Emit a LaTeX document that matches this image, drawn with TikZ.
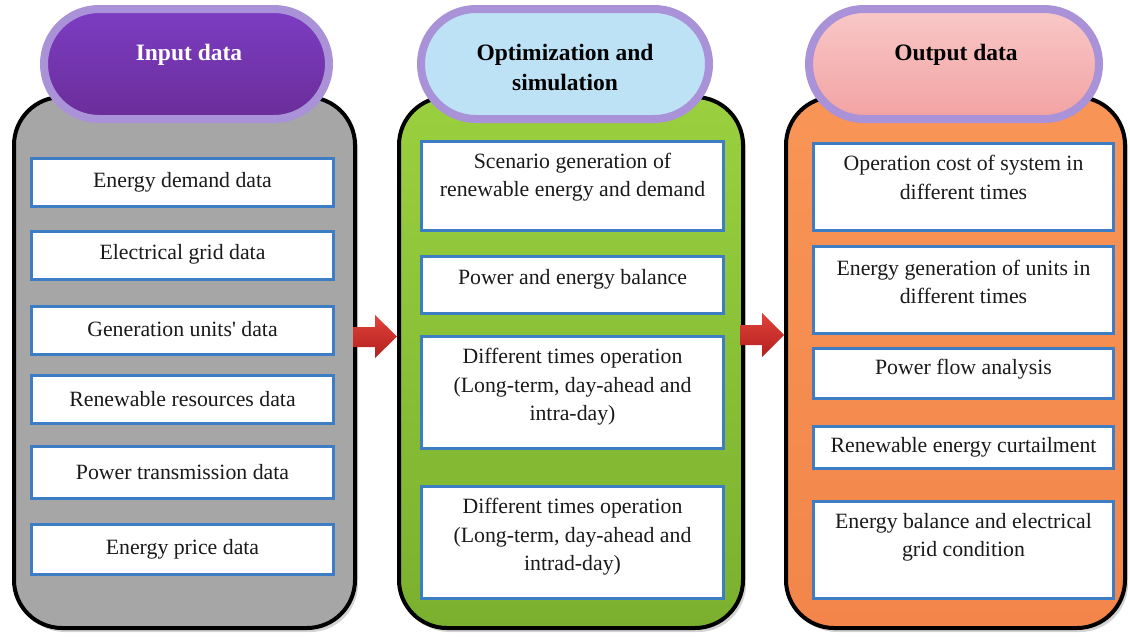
\documentclass[tikz,border=0pt]{standalone}
\usepackage{fontspec}
\setmainfont{Liberation Serif}
\usetikzlibrary{shadows}
\definecolor{panelgray}{HTML}{A6A6A6}
\definecolor{greentop}{HTML}{9AD03F}
\definecolor{greenbot}{HTML}{7AB02E}
\definecolor{orangetop}{HTML}{F89556}
\definecolor{orangebot}{HTML}{F3854A}
\definecolor{boxblue}{HTML}{3C7DC4}
\definecolor{hdrborder}{HTML}{A992D8}
\definecolor{purpletop}{HTML}{7D3DC4}
\definecolor{purplebot}{HTML}{6A2D98}
\definecolor{lightblue}{HTML}{BDE2F6}
\definecolor{pinktop}{HTML}{F9C8C8}
\definecolor{pinkbot}{HTML}{F2A2A2}
\definecolor{redtop}{HTML}{E0433A}
\definecolor{redbot}{HTML}{B21F1E}
\definecolor{txtcol}{HTML}{1A1A1A}
\begin{document}
\begin{tikzpicture}[x=1pt,y=-1pt,
  panel/.style={draw=black, line width=4pt, rounded corners=48pt, minimum width=341, minimum height=531, inner sep=0pt,
    drop shadow={opacity=0.35, shadow xshift=3pt, shadow yshift=-4pt}},
  header/.style={draw=hdrborder, line width=8pt, rounded corners=55pt, minimum width=285, minimum height=110, inner sep=0pt,
    drop shadow={opacity=0.3, shadow xshift=2pt, shadow yshift=-3pt}},
  htxt/.style={font=\bfseries\fontsize{23.5}{30}\selectfont, align=center, inner sep=0pt},
  box/.style={draw=boxblue, line width=3pt, fill=white, inner sep=0pt, minimum width=302},
  txt/.style={font=\fontsize{21.8}{28.5}\selectfont, align=center, inner sep=0pt, text=txtcol},
  redarrow/.style={top color=redtop, bottom color=redbot, draw=none}
]
\useasboundingbox (0,0) rectangle (1130,637);

% panels
\node[panel, fill=panelgray] (lp) at (184.5,362.5) {};
\node[panel, top color=greentop, bottom color=greenbot, minimum width=344] (mp) at (571,362.5) {};
\node[panel, top color=orangetop, bottom color=orangebot, minimum width=339] (rp) at (955.5,362.5) {};

% headers
\node[header, top color=purpletop, bottom color=purplebot] (lh) at (186.5,64) {};
\node[htxt, text=white] (lht) at (189,55) {Input data};
\node[header, fill=lightblue, minimum width=288] (mh) at (565,64) {};
\node[htxt, text=black] (mht) at (565,67) {Optimization and\\simulation};
\node[header, top color=pinktop, bottom color=pinkbot, minimum width=290] (rh) at (954,64) {};
\node[htxt, text=black] (rht) at (956,55) {Output data};

% left boxes
\node[box, minimum height=48] (l1) at (182.5,182.5) {};
\node[txt] (l1t) at (182.5,182) {Energy demand data};
\node[box, minimum height=48] (l2) at (182.5,255.5) {};
\node[txt] (l2t) at (182.5,254) {Electrical grid data};
\node[box, minimum height=48] (l3) at (182.5,330.5) {};
\node[txt] (l3t) at (182.5,329) {Generation units\textquotesingle\ data};
\node[box, minimum height=48] (l4) at (182.5,399.5) {};
\node[txt] (l4t) at (182.5,399) {Renewable resources data};
\node[box, minimum height=52] (l5) at (182.5,472.5) {};
\node[txt] (l5t) at (182.5,472) {Power transmission data};
\node[box, minimum height=50] (l6) at (182.5,549.5) {};
\node[txt] (l6t) at (182.5,549) {Energy price data};

% middle boxes
\node[box, minimum height=89] (m1) at (572.5,186) {};
\node[txt] (m1t) at (572.5,177) {Scenario generation of\\renewable energy and demand};
\node[box, minimum height=57] (m2) at (572.5,285) {};
\node[txt] (m2t) at (572.5,279) {Power and energy balance};
\node[box, minimum height=112] (m3) at (572.5,392.5) {};
\node[txt] (m3t) at (572.5,387) {Different times operation\\(Long-term, day-ahead and\\intra-day)};
\node[box, minimum height=112] (m4) at (572.5,542.5) {};
\node[txt] (m4t) at (572.5,537) {Different times operation\\(Long-term, day-ahead and\\intrad-day)};

% right boxes
\node[box, minimum height=87, minimum width=300] (r1) at (963.5,187) {};
\node[txt] (r1t) at (963.5,177.5) {Operation cost of system in\\different times};
\node[box, minimum height=87, minimum width=300] (r2) at (963.5,290) {};
\node[txt] (r2t) at (963.5,282) {Energy generation of units in\\different times};
\node[box, minimum height=50, minimum width=300] (r3) at (963.5,373.5) {};
\node[txt] (r3t) at (963.5,369) {Power flow analysis};
\node[box, minimum height=42, minimum width=300] (r4) at (963.5,447.5) {};
\node[txt] (r4t) at (963.5,447) {Renewable energy curtailment};
\node[box, minimum height=97, minimum width=300] (r5) at (963.5,550) {};
\node[txt] (r5t) at (963.5,537.5) {Energy balance and electrical\\grid condition};

% arrows between panels
\shade[redarrow] (353,327) -- (375,327) -- (375,315) -- (397,336.5) -- (375,358) -- (375,347) -- (353,347) -- cycle;
\shade[redarrow] (740,325) -- (762,325) -- (762,313) -- (784,335) -- (762,357) -- (762,345) -- (740,345) -- cycle;
\end{tikzpicture}
\end{document}
